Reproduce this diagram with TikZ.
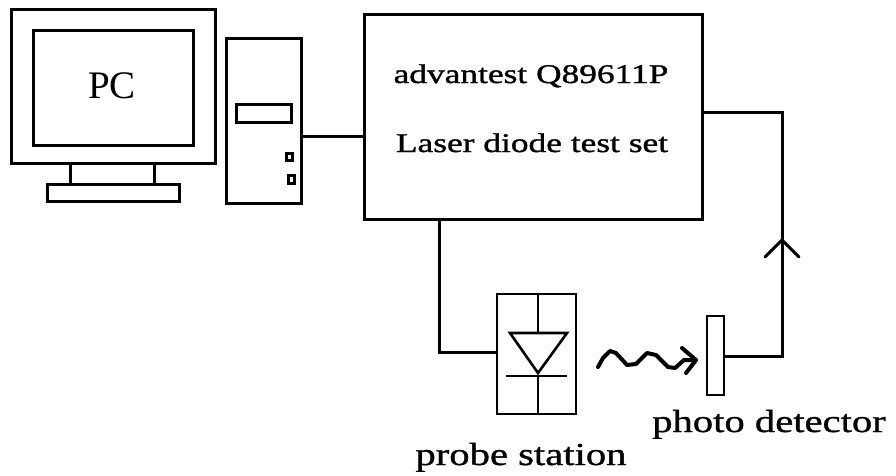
\documentclass[tikz,border=0pt]{standalone}
\usepackage{fontspec}
\setmainfont{Liberation Serif}
\newfontfamily\spaceA[FakeStretch=1.31,FakeBold=1.2]{Liberation Serif}
\newfontfamily\spaceC[FakeStretch=1.27,FakeBold=1]{Liberation Serif}
\tikzset{
  wire/.style={line width=3pt,line join=miter},
  thin wire/.style={line width=2.6pt,line join=miter},
  block/.style={draw,line width=3pt,outer sep=0pt,inner sep=0pt,anchor=north west},
  label/.style={inner sep=0pt,anchor=base,text=black},
}
\begin{document}
\begin{tikzpicture}[x=1pt,y=-1pt]
\useasboundingbox (0,0) rectangle (896,475);
\fill[white] (0,0) rectangle (896,475);
% PC
\draw[wire] (70,163) -- (70,184) (154,163) -- (154,184);
\node[block,minimum width=204pt,minimum height=154pt] (mon) at (11,9) {};
\node[block,minimum width=160pt,minimum height=115pt] (scr) at (33,30) {};
\node[block,minimum width=132pt,minimum height=17pt] (base) at (47,184) {};
\node[block,minimum width=75pt,minimum height=165pt] (tower) at (226,38) {};
\node[block,minimum width=55pt,minimum height=18pt] (slot) at (236,104) {};
\node[block,minimum width=6pt,minimum height=7pt] (b1) at (286,153) {};
\node[block,minimum width=6pt,minimum height=8pt] (b2) at (288.5,175) {};
\node[label,font=\fontsize{39}{39}\selectfont] (pc) at (112,98) {PC};
% Tester
\node[block,minimum width=338pt,minimum height=205pt] (set) at (364,14) {};
\node[label,font=\spaceA\fontsize{27}{27}\selectfont] (t1) at (531,83) {advantest Q89611P};
\node[label,font=\spaceA\fontsize{27}{27}\selectfont] (t2) at (532,152) {Laser diode test set};
% Station
\node[block,minimum width=79pt,minimum height=120pt,line width=2.6pt] (st) at (497,294) {};
\coordinate (stT) at (538,294);
\coordinate (stB) at (538,414);
\coordinate (dTop) at (538,333);
\coordinate (dBar) at (538,376);
\draw[thin wire] (stT) -- (dTop) (dBar) -- (stB);
\draw[thin wire] (510,333) -- (567,333) -- (538,373) -- cycle;
\draw[thin wire] (506,376) -- (567,376);
% Detector
\node[block,minimum width=17pt,minimum height=79pt,line width=2.6pt] (det) at (707,316) {};
% Connections
\draw[wire] (tower.east |- 0,136) -- (set.west |- 0,136);
\draw[wire] (set.south -| 439,0) -- (439,352) -- (st.west |- 0,352);
\coordinate (detOut) at (724,356);
\draw[wire] (detOut) -- (782,356) -- (782,112) -- (set.east |- 0,112);
\coordinate (tip) at (782,240);
\draw[wire,line cap=round] (765,257) -- (tip) -- (799,257);
% Light
\draw[line width=4pt,line join=round,line cap=round] (598,367) -- (603,358) -- (610,351) -- (616,353) -- (627,365) -- (636,364) -- (647,353) -- (656,355) -- (668,367) -- (675,368) -- (684,360) -- (696,360);
\draw[line width=4pt,line join=round,line cap=round] (682,348) -- (696,360) -- (686,373);
% Captions
\node[label,font=\spaceC\fontsize{32}{32}\selectfont] (pd) at (769,432) {photo detector};
\node[label,font=\spaceC\fontsize{32}{32}\selectfont] (ps) at (521,465) {probe station};
\end{tikzpicture}
\end{document}
